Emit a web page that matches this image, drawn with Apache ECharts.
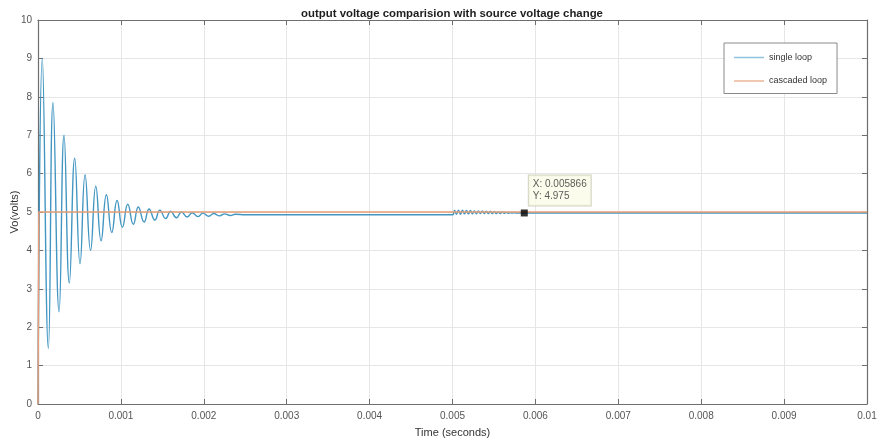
<!DOCTYPE html>
<html>
<head>
<meta charset="utf-8">
<script src="https://cdn.jsdelivr.net/npm/echarts@6/dist/echarts.min.js"></script>
<style>
  html, body { margin: 0; padding: 0; background: #fff; }
  #chart { width: 881px; height: 441px; }
</style>
</head>
<body>
<div id="chart"></div>
<script>
// Single-loop controller response: time (s) and output voltage (V)
const singleLoopTime = [
  0, 0.000052, 0.000125, 0.000181, 0.000254, 0.000314, 0.000378, 0.000443,
  0.000507, 0.000568, 0.000634, 0.000697, 0.000761, 0.000825, 0.00089, 0.000954,
  0.001018, 0.001083, 0.00115, 0.00121, 0.00128, 0.00134, 0.00141, 0.00147,
  0.00154, 0.0016, 0.00167, 0.00173, 0.0018, 0.00186, 0.00193, 0.00199,
  0.00206, 0.00212, 0.00219, 0.00225, 0.00232, 0.00238, 0.0025, 0.005,
  0.005024, 0.005048, 0.005072, 0.005096, 0.00512, 0.005144, 0.005168, 0.005192,
  0.005216, 0.00524, 0.005264, 0.005288, 0.005312, 0.005336, 0.00536, 0.005384,
  0.005408, 0.005432, 0.005456, 0.00548, 0.005504, 0.005528, 0.005552, 0.005576,
  0.0056, 0.005624, 0.005648, 0.005672, 0.005696, 0.00572, 0.005744, 0.005768,
  0.005866, 0.01
];
const singleLoopVo = [
  0, 9.0, 1.45, 7.85, 2.4, 7.0, 3.15, 6.4,
  3.65, 5.97, 4.0, 5.67, 4.25, 5.45, 4.47, 5.3,
  4.6, 5.2, 4.68, 5.13, 4.74, 5.08, 4.79, 5.05,
  4.83, 5.02, 4.85, 5.0, 4.87, 4.98, 4.88, 4.97,
  4.89, 4.96, 4.9, 4.95, 4.91, 4.94, 4.93, 4.93,
  5.04, 4.94, 5.05, 4.94, 5.05, 4.95, 5.04, 4.95,
  5.04, 4.95, 5.03, 4.95, 5.03, 4.96, 5.03, 4.96,
  5.02, 4.96, 5.02, 4.96, 5.01, 4.96, 5.0, 4.96,
  5.0, 4.965, 4.99, 4.965, 4.985, 4.97, 4.98, 4.972,
  4.975, 4.975
];

// Cascaded-loop controller response
const cascadedLoopTime = [0, 0.00001, 0.01];
const cascadedLoopVo = [0, 5.0, 5.0];

// Data cursor point
const cursorPoint = [0.005866, 4.975];

// Axis tick labels
const xTickLabels = ['0', '0.001', '0.002', '0.003', '0.004', '0.005', '0.006', '0.007', '0.008', '0.009', '0.01'];
const yTickLabels = ['0', '1', '2', '3', '4', '5', '6', '7', '8', '9', '10'];

const zip = (xs, ys) => xs.map((x, i) => [x, ys[i]]);

const FONT = 'Liberation Sans, Arial, sans-serif';
const AXIS_COLOR = '#6e6e6e';
const GRID_COLOR = '#e6e6e6';
const BLUE = '#4396c2';
const ORANGE = '#e59e76';

const chart = echarts.init(document.getElementById('chart'), null, { renderer: 'canvas' });

const tickStyle = { show: true, inside: true, length: 5, lineStyle: { color: AXIS_COLOR, width: 1 } };
const lineStyleAxis = { show: true, onZero: false, lineStyle: { color: AXIS_COLOR, width: 1.2 } };

chart.setOption({
  animation: false,
  backgroundColor: '#ffffff',
  title: {
    text: 'output voltage comparision with source voltage change',
    left: 447,
    top: 3,
    textAlign: 'center',
    textStyle: { fontFamily: FONT, fontSize: 11.4, fontWeight: 'bold', color: '#1e1e1e' }
  },
  grid: { left: 38, right: 14, top: 20, bottom: 37, outerBoundsMode: 'none' },
  legend: {
    orient: 'vertical',
    left: 724,
    top: 43,
    padding: [10, 10, 8, 10],
    icon: 'rect',
    itemWidth: 30,
    itemHeight: 1.5,
    itemGap: 14.5,
    backgroundColor: '#ffffff',
    borderColor: '#8a8a8a',
    borderWidth: 1,
    z: 20,
    textStyle: { fontFamily: FONT, fontSize: 9, color: '#333' },
    data: [
      { name: 'single loop', itemStyle: { color: '#8ec3dc' } },
      { name: 'cascaded loop', itemStyle: { color: '#ebb496' } }
    ]
  },
  xAxis: [
    {
      type: 'value', min: 0, max: 0.01, interval: 0.001,
      name: 'Time (seconds)', nameLocation: 'middle', nameGap: 23, nameMoveOverlap: false,
      nameTextStyle: { fontFamily: FONT, fontSize: 11, color: '#333' },
      axisLine: lineStyleAxis,
      axisTick: tickStyle,
      axisLabel: {
        margin: 7, fontFamily: FONT, fontSize: 10, color: '#555',
        formatter: v => xTickLabels[Math.round(v / 0.001)]
      },
      splitLine: { show: true, lineStyle: { color: GRID_COLOR, width: 1 } }
    },
    {
      type: 'value', min: 0, max: 0.01, interval: 0.001, position: 'top',
      axisLine: lineStyleAxis, axisTick: tickStyle,
      axisLabel: { show: false }, splitLine: { show: false }
    }
  ],
  yAxis: [
    {
      type: 'value', min: 0, max: 10, interval: 1,
      name: 'Vo(volts)', nameLocation: 'middle', nameGap: 18, nameRotate: 90, nameMoveOverlap: false,
      nameTextStyle: { fontFamily: FONT, fontSize: 11, color: '#333' },
      axisLine: lineStyleAxis,
      axisTick: tickStyle,
      axisLabel: {
        margin: 6, fontFamily: FONT, fontSize: 10, color: '#555',
        formatter: v => yTickLabels[Math.round(v)]
      },
      splitLine: { show: true, lineStyle: { color: GRID_COLOR, width: 1 } }
    },
    {
      type: 'value', min: 0, max: 10, interval: 1, position: 'right',
      axisLine: lineStyleAxis, axisTick: tickStyle,
      axisLabel: { show: false }, splitLine: { show: false }
    }
  ],
  series: [
    {
      name: 'single loop',
      type: 'line',
      data: zip(singleLoopTime, singleLoopVo),
      symbol: 'none',
      smooth: 0.5,
      color: BLUE,
      lineStyle: { width: 1.4, color: BLUE },
      z: 2
    },
    {
      name: 'cascaded loop',
      type: 'line',
      data: zip(cascadedLoopTime, cascadedLoopVo),
      symbol: 'none',
      color: ORANGE,
      lineStyle: { width: 1.5, color: ORANGE },
      z: 3
    },
    {
      name: 'cursor',
      type: 'scatter',
      data: [cursorPoint],
      symbol: 'rect',
      symbolSize: 7,
      itemStyle: { color: '#000' },
      z: 12,
      label: {
        show: true,
        position: [8, -34],
        formatter: p => 'X: ' + p.value[0] + '\nY: ' + p.value[1],
        fontFamily: FONT,
        fontSize: 10,
        lineHeight: 12,
        color: '#333',
        backgroundColor: '#fbfbe8',
        borderColor: '#c8c8b4',
        borderWidth: 1,
        padding: [3, 4, 3, 4]
      }
    }
  ]
});
</script>
</body>
</html>
